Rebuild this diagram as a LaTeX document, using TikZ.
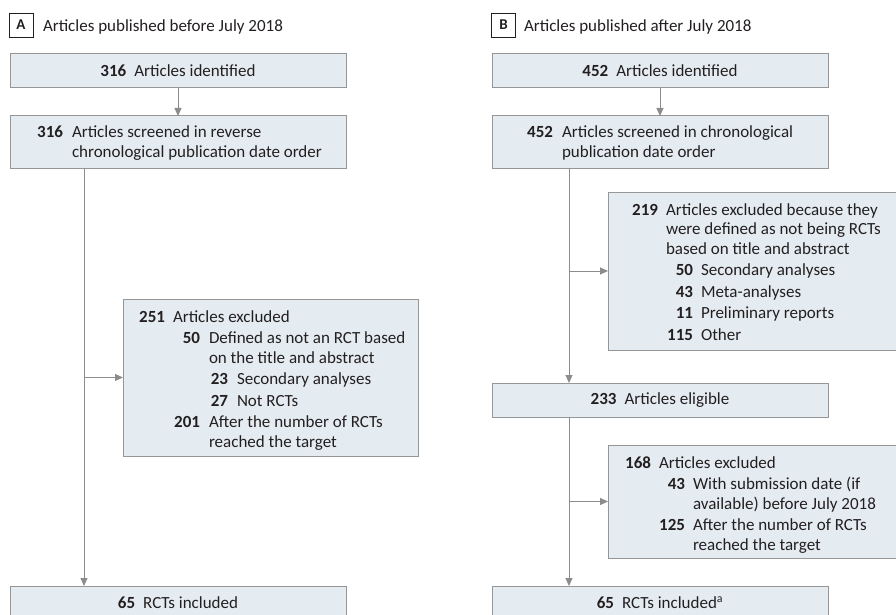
\documentclass[tikz,border=0pt]{standalone}
\usepackage{fontspec}
\setmainfont{Carlito}
\usetikzlibrary{arrows.meta}
\definecolor{boxfill}{RGB}{229,236,241}
\definecolor{boxline}{RGB}{150,150,150}
\definecolor{connc}{RGB}{140,140,140}
\definecolor{ink}{RGB}{35,31,32}
\begin{document}
\begin{tikzpicture}[x=1pt,y=-1pt,
  every node/.style={inner sep=0pt, outer sep=0pt, text=ink, font=\fontsize{17}{19.5}\selectfont},
  flowbox/.style={draw=boxline, fill=boxfill, line width=1pt},
  arr/.style={draw=connc, line width=1pt, -{Triangle[length=8pt,width=7pt]}},
  num/.style={anchor=base east, font=\fontsize{17}{19.5}\selectfont\bfseries},
  txt/.style={anchor=base west},
  tagbox/.style={draw=ink, line width=0.9pt, minimum width=24pt, minimum height=24pt, font=\fontsize{15}{18}\selectfont\bfseries}]
\useasboundingbox (0,0) rectangle (896,615);

% ---------- Panel A ----------
\node[tagbox] (labA) at (21,25) {A};
\node[txt] (titA) at (43,32) {Articles published before July 2018};

\node[flowbox, minimum width=336pt, minimum height=34pt] (a1) at (178,71) {\textbf{316}\hspace{8pt}Articles identified};
\node[flowbox, minimum width=336pt, minimum height=52pt] (a2) at (178,142) {};
\node[num] (a2n) at (63,138) {316};
\node[txt] (a2t1) at (72,138) {Articles screened in reverse};
\node[txt] (a2t2) at (72,157.5) {chronological publication date order};

\node[flowbox, minimum width=295pt, minimum height=157pt] (aex) at (270.5,377.5) {};
\node[num] (aexn1) at (165,322) {251};
\node[txt] (aext1) at (173,322) {Articles excluded};
\node[num] (aexn2) at (200,343.5) {50};
\node[txt] (aext2) at (209,343.5) {Defined as not an RCT based};
\node[txt] (aext2b) at (209,363) {on the title and abstract};
\node[num] (aexn3) at (228,384.5) {23};
\node[txt] (aext3) at (237,384.5) {Secondary analyses};
\node[num] (aexn4) at (228,406) {27};
\node[txt] (aext4) at (237,406) {Not RCTs};
\node[num] (aexn5) at (200,427.5) {201};
\node[txt] (aext5) at (209,427.5) {After the number of RCTs};
\node[txt] (aext5b) at (209,447) {reached the target};

\node[flowbox, minimum width=336pt, minimum height=34pt] (a3) at (178,603) {\textbf{65}\hspace{8pt}RCTs included};

% ---------- Panel B ----------
\node[tagbox] (labB) at (503.5,25) {B};
\node[txt] (titB) at (524,32) {Articles published after July 2018};

\node[flowbox, minimum width=336pt, minimum height=34pt] (b1) at (660,71) {\textbf{452}\hspace{8pt}Articles identified};
\node[flowbox, minimum width=336pt, minimum height=52pt] (b2) at (660,142) {};
\node[num] (b2n) at (553,138) {452};
\node[txt] (b2t1) at (562,138) {Articles screened in chronological};
\node[txt] (b2t2) at (562,157.5) {publication date order};

\node[flowbox, minimum width=291pt, minimum height=158pt] (bex1) at (753.5,271) {};
\node[num] (bx1n1) at (658,215) {219};
\node[txt] (bx1t1) at (666,215) {Articles excluded because they};
\node[txt] (bx1t1b) at (666,234.5) {were defined as not being RCTs};
\node[txt] (bx1t1c) at (666,254) {based on title and abstract};
\node[num] (bx1n2) at (693,275.5) {50};
\node[txt] (bx1t2) at (701,275.5) {Secondary analyses};
\node[num] (bx1n3) at (693,297) {43};
\node[txt] (bx1t3) at (701,297) {Meta-analyses};
\node[num] (bx1n4) at (693,318.5) {11};
\node[txt] (bx1t4) at (701,318.5) {Preliminary reports};
\node[num] (bx1n5) at (693,340) {115};
\node[txt] (bx1t5) at (701,340) {Other};

\node[flowbox, minimum width=336pt, minimum height=34pt] (b3) at (660,400) {\textbf{233}\hspace{8pt}Articles eligible};

\node[flowbox, minimum width=291pt, minimum height=113pt] (bex2) at (753.5,501.5) {};
\node[num] (bx2n1) at (651,468) {168};
\node[txt] (bx2t1) at (659,468) {Articles excluded};
\node[num] (bx2n2) at (685,489.5) {43};
\node[txt] (bx2t2) at (693,489.5) {With submission date (if};
\node[txt] (bx2t2b) at (693,509) {available) before July 2018};
\node[num] (bx2n3) at (685,530.5) {125};
\node[txt] (bx2t3) at (693,530.5) {After the number of RCTs};
\node[txt] (bx2t3b) at (693,550) {reached the target};

\node[flowbox, minimum width=336pt, minimum height=34pt] (b4) at (660,603) {\textbf{65}\hspace{8pt}RCTs included\textsuperscript{a}};

% ---------- Connectors ----------
\coordinate (ax) at (84,0);
\coordinate (bx) at (569,0);
\draw[arr] (a1) -- (a2);
\draw[arr] (a2.south -| ax) -- (a3.north -| ax);
\draw[arr] (aex.west -| ax) -- (aex.west);
\draw[arr] (b1) -- (b2);
\draw[arr] (b2.south -| bx) -- (b3.north -| bx);
\draw[arr] (bex1.west -| bx) -- (bex1.west);
\draw[arr] (b3.south -| bx) -- (b4.north -| bx);
\draw[arr] (bex2.west -| bx) -- (bex2.west);
\end{tikzpicture}
\end{document}
